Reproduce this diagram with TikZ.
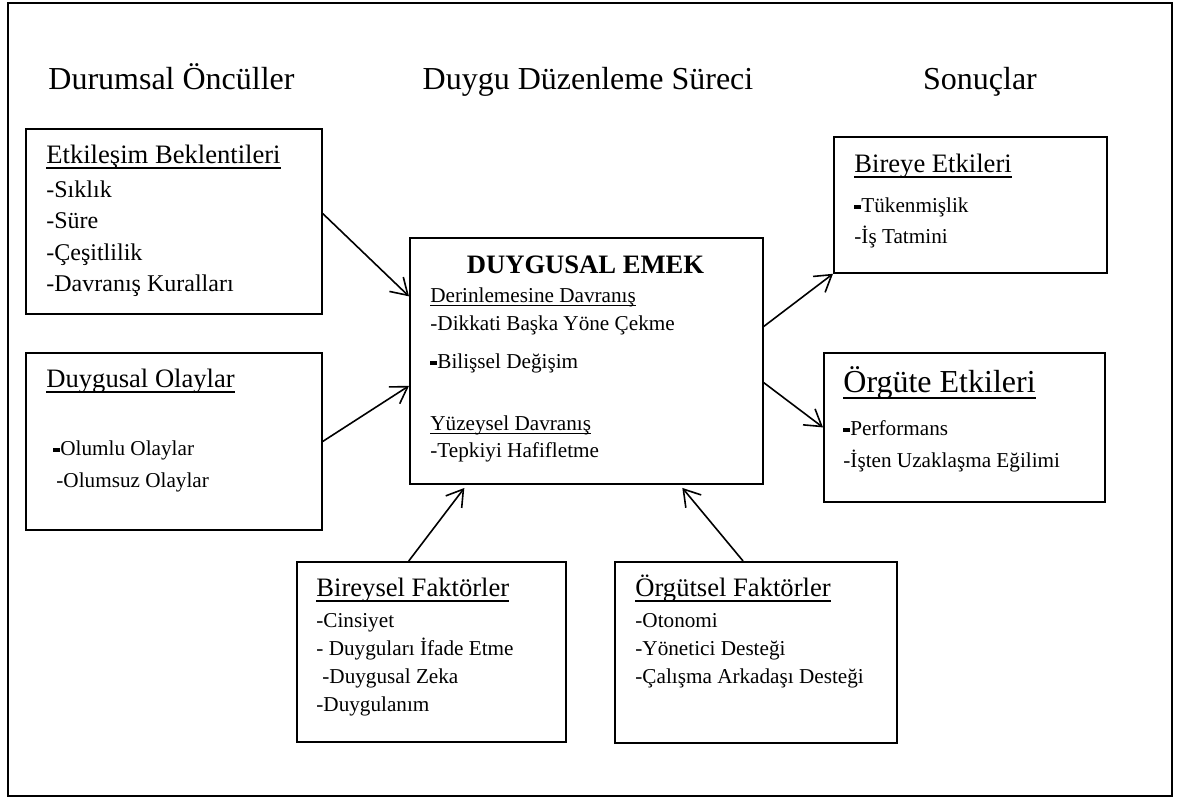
\documentclass[tikz,border=0pt]{standalone}
\usepackage{fontspec}
\setmainfont{Liberation Serif}
\usetikzlibrary{arrows.meta}
\newcommand{\ult}[1]{\sbox0{#1}\rlap{\rule[-0.21em]{\wd0}{0.055em}}\usebox0}
\newcommand{\bdash}{\rule[0.15em]{0.33em}{0.16em}}

\tikzset{
  frame/.style={draw, line width=0.6pt},
  box/.style={draw, line width=0.9pt, anchor=north west, inner sep=0pt},
  head/.style={anchor=base, inner sep=0pt, font=\fontsize{16}{19}\selectfont},
  title/.style={anchor=base west, inner sep=0pt, font=\fontsize{13.3}{16}\selectfont},
  item/.style={anchor=base west, inner sep=0pt, font=\fontsize{10.6}{13}\selectfont},
  link/.style={line width=0.8pt, -{Straight Barb[length=8pt,width=10pt]}}
}

\begin{document}
\begin{tikzpicture}[x=0.5pt, y=-0.5pt]
    \useasboundingbox (0,0) rectangle (1188,798);
    \draw[frame] (8,3) rectangle (1172,796);

    % column headings
    \node[head] (hdurum) at (171.5,89) {Durumsal Öncüller};
    \node[head] (hsurec) at (588,89) {Duygu Düzenleme Süreci};
    \node[head] (hsonuc) at (980,89) {Sonuçlar};

    % boxes
    \node[box, minimum width=148pt, minimum height=92.5pt] (etk) at (25,128) {};
    \node[box, minimum width=148pt, minimum height=88.5pt] (olay) at (25,352) {};
    \node[box, minimum width=176.5pt, minimum height=123pt] (emek) at (409,237) {};
    \node[box, minimum width=136.5pt, minimum height=68pt] (birey) at (833,136) {};
    \node[box, minimum width=140.5pt, minimum height=74.5pt] (orgute) at (823,352) {};
    \node[box, minimum width=134.5pt, minimum height=90pt] (bireysel) at (296,561) {};
    \node[box, minimum width=141pt, minimum height=90.5pt] (orgutsel) at (614,561) {};

    % situational antecedents
    \node[title] (etk-t) at (46,163) {\ult{Etkileşim Beklentileri}};
    \foreach \txt [count=\i] in {-Sıklık, -Süre, -Çeşitlilik, -Davranış Kuralları}
      \node[item, font=\fontsize{12}{14}\selectfont] (etk-\i) at (46,165.5+31.5*\i) {\txt};

    \node[title] (olay-t) at (46,387) {\ult{Duygusal Olaylar}};
    \node[item] (olay-1) at (53,455) {\bdash Olumlu Olaylar};
    \node[item] (olay-2) at (56,487) {-Olumsuz Olaylar};

    % emotional labour
    \node[anchor=base, inner sep=0pt, font=\fontsize{13.3}{16}\selectfont\bfseries] (emek-t) at (585.5,273) {DUYGUSAL EMEK};
    \node[item] (emek-1) at (430,302) {\ult{Derinlemesine Davranış}};
    \node[item] (emek-2) at (430,330) {-Dikkati Başka Yöne Çekme};
    \node[item] (emek-3) at (430,368) {\bdash Bilişsel Değişim};
    \node[item] (emek-4) at (430,430) {\ult{Yüzeysel Davranış}};
    \node[item] (emek-5) at (430,457) {-Tepkiyi Hafifletme};

    % outcomes
    \node[title] (birey-t) at (854,172) {\ult{Bireye Etkileri}};
    \node[item] (birey-1) at (854,212) {\bdash Tükenmişlik};
    \node[item] (birey-2) at (854,243) {-İş Tatmini};

    \node[title, font=\fontsize{16}{19}\selectfont] (orgute-t) at (843,392) {\ult{Örgüte Etkileri}};
    \node[item] (orgute-1) at (843,435) {\bdash Performans};
    \node[item] (orgute-2) at (843,467) {-İşten Uzaklaşma Eğilimi};

    % factors
    \node[title] (bireysel-t) at (316,596) {\ult{Bireysel Faktörler}};
    \node[item] (bireysel-1) at (316,627) {-Cinsiyet};
    \node[item] (bireysel-2) at (316,655) {- Duyguları İfade Etme};
    \node[item] (bireysel-3) at (322,683) {-Duygusal Zeka};
    \node[item] (bireysel-4) at (316,711) {-Duygulanım};

    \node[title] (orgutsel-t) at (635,596) {\ult{Örgütsel Faktörler}};
    \foreach \txt [count=\i] in {-Otonomi, -Yönetici Desteği, -Çalışma Arkadaşı Desteği}
      \node[item] (orgutsel-\i) at (635,599+28*\i) {\txt};

    % connectors
    \draw[link] (etk.3) -- (emek.160);
    \draw[link] (olay.east) -- (emek.188);
    \draw[link] (emek.11) -- (birey.south west);
    \draw[link] (emek.-7) -- (orgute.west);
    \draw[link, shorten >=2pt] (bireysel.104) -- (emek.226);
    \draw[link, shorten >=2pt] (orgutsel.98) -- (emek.-53);
\end{tikzpicture}
\end{document}
